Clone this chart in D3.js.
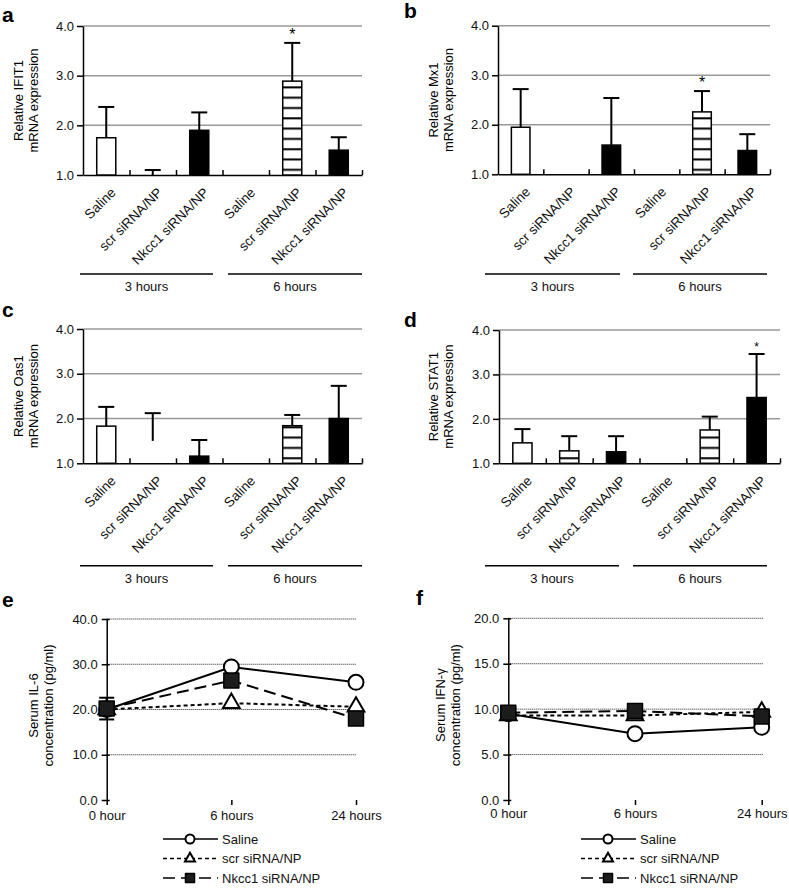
<!DOCTYPE html>
<html>
<head>
<meta charset="utf-8">
<script src="https://cdn.jsdelivr.net/npm/d3@7"></script>
<style>
    body { margin: 0; background: #fff; }
    svg { display: block; font-family: "Liberation Sans", Arial, sans-serif; }
</style>
</head>
<body>
<div id="canvas"></div>
<script>
"use strict"

/* Data: bar panels a-d (relative mRNA expression, mean and SD) */
let barLabels = ["Saline", "scr siRNA/NP", "Nkcc1 siRNA/NP", "Saline", "scr siRNA/NP", "Nkcc1 siRNA/NP"];
let groupLabels = ["3 hours", "6 hours"];
let barTicks = [1.0, 2.0, 3.0, 4.0];

let ifit1Mean = [1.75, 0.90, 1.90, 1.00, 2.89, 1.50];
let ifit1Sd = [0.62, 0.20, 0.36, 0.00, 0.77, 0.26];

let mx1Mean = [1.95, 0.85, 1.59, 1.00, 2.26, 1.48];
let mx1Sd = [0.77, 0.10, 0.95, 0.00, 0.42, 0.33];

let oas1Mean = [1.83, 1.50, 1.16, 1.00, 1.84, 2.00];
let oas1Sd = [0.43, 0.62, 0.36, 0.00, 0.24, 0.73];

let stat1Mean = [1.46, 1.28, 1.26, 1.00, 1.75, 2.48];
let stat1Sd = [0.31, 0.33, 0.35, 0.00, 0.30, 0.98];

/* Data: line panels e-f (serum cytokines, pg/ml) */
let timePoints = ["0 hour", "6 hours", "24 hours"];
let seriesNames = ["Saline", "scr siRNA/NP", "Nkcc1 siRNA/NP"];

let il6Saline = [20.0, 29.4, 26.0];
let il6Scr = [20.0, 21.4, 20.6];
let il6Nkcc1 = [20.2, 26.4, 18.0];
let il6Nkcc1Sd = [2.4, 0, 0];
let il6Ticks = [0, 10, 20, 30, 40];

let ifngSaline = [9.5, 7.3, 8.0];
let ifngScr = [9.3, 9.3, 9.7];
let ifngNkcc1 = [9.6, 9.8, 9.2];
let ifngNkcc1Sd = [0, 0, 0];
let ifngTicks = [0, 5, 10, 15, 20];

/* Drawing canvas */
let svgWidth = 789;
let svgHeight = 890;

let svg = d3.select("#canvas")
    .append("svg")
    .attr("width", svgWidth)
    .attr("height", svgHeight);

/* horizontal stripe fill for scr siRNA bars */
let pattern = svg.append("defs").append("pattern")
    .attr("id", "stripes")
    .attr("patternUnits", "userSpaceOnUse")
    .attr("width", 10)
    .attr("height", 10.3);
pattern.append("rect").attr("width", 10).attr("height", 10.3).attr("fill", "white");
pattern.append("rect").attr("y", 4).attr("width", 10).attr("height", 2).attr("fill", "black");

let barFills = ["white", "url(#stripes)", "black"];

function panelLetter(letter, x, y) {
    svg.append("text")
        .attr("x", x)
        .attr("y", y)
        .attr("font-size", 21)
        .attr("font-weight", "bold")
        .text(letter);
}

function axisTitle(lines, x, y) {
    let t = svg.append("text")
        .attr("transform", "translate(" + x + "," + y + ") rotate(-90)")
        .attr("text-anchor", "middle")
        .attr("font-size", 13);
    lines.forEach(function (line, i) {
        t.append("tspan").attr("x", 0).attr("dy", i === 0 ? 0 : 15).text(line);
    });
}

function drawBarPanel(p) {
    let g = svg.append("g");

    let x = d3.scaleBand()
        .domain(d3.range(barLabels.length))
        .range([p.left, p.right])
        .paddingInner(0.59)
        .paddingOuter(0.295);

    let y = d3.scaleLinear()
        .domain([1, 4])
        .range([p.bottom, p.top]);

    /* gray gridlines */
    g.selectAll(".grid")
        .data(barTicks.slice(1))
        .join("line")
        .attr("x1", p.left)
        .attr("x2", p.right)
        .attr("y1", d => y(d))
        .attr("y2", d => y(d))
        .attr("stroke", "#999")
        .attr("stroke-width", 1.5);

    /* y axis */
    let yAxis = g.append("g")
        .attr("transform", "translate(" + p.left + ",0)")
        .call(d3.axisLeft(y).tickValues(barTicks).tickFormat(d3.format(".1f")).tickSizeInner(6).tickSizeOuter(0).tickPadding(3));
    yAxis.select(".domain").attr("stroke", "black").attr("stroke-width", 1.5);
    yAxis.selectAll(".tick line").attr("stroke-width", 1.5);
    yAxis.selectAll("text").attr("font-size", 13).attr("font-family", "Liberation Sans, Arial, sans-serif").attr("fill", "#111");

    /* x axis with inward ticks between categories */
    let bounds = d3.scaleLinear().domain([0, barLabels.length]).range([p.left, p.right]);
    let xAxis = g.append("g")
        .attr("transform", "translate(0," + y(1) + ")")
        .call(d3.axisBottom(bounds).tickValues(d3.range(1, barLabels.length + 1)).tickSizeInner(-5).tickSizeOuter(0).tickFormat(""));
    xAxis.select(".domain").attr("stroke", "black").attr("stroke-width", 1.5);
    xAxis.selectAll(".tick line").attr("stroke-width", 1.5);

    let rows = p.mean.map(function (m, i) {
        return { i: i, m: m, sd: p.sd[i] };
    });

    /* bars (axis starts at 1.0, so lower values are hidden) */
    g.selectAll(".bar")
        .data(rows.filter(d => d.m > 1 && p.hidden.indexOf(d.i) < 0))
        .join("rect")
        .attr("x", d => x(d.i))
        .attr("width", x.bandwidth())
        .attr("y", d => y(d.m))
        .attr("height", d => y(1) - y(d.m))
        .attr("fill", d => barFills[d.i % 3])
        .attr("stroke", "black")
        .attr("stroke-width", 1.5);

    /* error bars */
    let err = rows.filter(d => d.m + d.sd > 1 && d.sd > 0);
    g.selectAll(".err")
        .data(err)
        .join("line")
        .attr("x1", d => x(d.i) + x.bandwidth() / 2)
        .attr("x2", d => x(d.i) + x.bandwidth() / 2)
        .attr("y1", d => y(Math.max(d.m, 1)))
        .attr("y2", d => y(d.m + d.sd))
        .attr("stroke", "black")
        .attr("stroke-width", 2);
    g.selectAll(".cap")
        .data(err)
        .join("line")
        .attr("x1", d => x(d.i) + x.bandwidth() / 2 - 8)
        .attr("x2", d => x(d.i) + x.bandwidth() / 2 + 8)
        .attr("y1", d => y(d.m + d.sd))
        .attr("y2", d => y(d.m + d.sd))
        .attr("stroke", "black")
        .attr("stroke-width", 2);

    /* significance stars */
    g.selectAll(".star")
        .data(rows.filter(d => p.stars.indexOf(d.i) >= 0))
        .join("text")
        .attr("x", d => x(d.i) + x.bandwidth() / 2)
        .attr("y", d => y(d.m + d.sd) - 3)
        .attr("text-anchor", "middle")
        .attr("font-size", p.starSize)
        .text("*");

    /* rotated category labels */
    g.selectAll(".cat")
        .data(barLabels)
        .join("text")
        .attr("transform", (d, i) => "translate(" + (x(i) + x.bandwidth() / 2 + 7) + "," + (y(1) + 15) + ") rotate(-45)")
        .attr("text-anchor", "end")
        .attr("dy", "0.35em")
        .attr("font-size", 13.5)
        .attr("fill", "#111")
        .text(d => d);

    /* group lines: 3 hours / 6 hours */
    p.groupLines.forEach(function (seg, k) {
        g.append("line")
            .attr("x1", seg[0])
            .attr("x2", seg[1])
            .attr("y1", p.groupY)
            .attr("y2", p.groupY)
            .attr("stroke", "black")
            .attr("stroke-width", 1.5);
        g.append("text")
            .attr("x", (seg[0] + seg[1]) / 2)
            .attr("y", p.groupY + 17)
            .attr("text-anchor", "middle")
            .attr("font-size", 13)
            .attr("fill", "#111")
            .text(groupLabels[k]);
    });

    axisTitle(p.title, p.titleX, (p.top + p.bottom) / 2);
    panelLetter(p.letter, p.letterX, p.letterY);
}

drawBarPanel({
    letter: "a", letterX: 2, letterY: 22,
    left: 83, right: 362, top: 26, bottom: 175,
    mean: ifit1Mean, sd: ifit1Sd, hidden: [], stars: [4], starSize: 16,
    groupY: 274, groupLines: [[80, 213], [228, 362]],
    title: ["Relative IFIT1", "mRNA expression"], titleX: 23
});

drawBarPanel({
    letter: "b", letterX: 404, letterY: 18,
    left: 498, right: 770, top: 25.7, bottom: 174.3,
    mean: mx1Mean, sd: mx1Sd, hidden: [], stars: [4], starSize: 16,
    groupY: 274, groupLines: [[485, 620], [633, 767]],
    title: ["Relative Mx1", "mRNA expression"], titleX: 438
});

drawBarPanel({
    letter: "c", letterX: 2, letterY: 317,
    left: 83, right: 362, top: 329, bottom: 463.3,
    mean: oas1Mean, sd: oas1Sd, hidden: [1], stars: [], starSize: 16,
    groupY: 565.7, groupLines: [[80, 213], [228, 362]],
    title: ["Relative Oas1", "mRNA expression"], titleX: 23
});

drawBarPanel({
    letter: "d", letterX: 404, letterY: 327,
    left: 499, right: 780, top: 330, bottom: 463.3,
    mean: stat1Mean, sd: stat1Sd, hidden: [], stars: [5], starSize: 12,
    groupY: 565.7, groupLines: [[485, 619], [633, 767]],
    title: ["Relative STAT1", "mRNA expression"], titleX: 438
});

/* Line panels */
let dashes = [null, "4,3", "12,6"];

function marker(sel, kind, scale) {
    if (kind === 0) {
        sel.append("circle")
            .attr("r", 7.5 * scale)
            .attr("fill", "white")
            .attr("stroke", "black")
            .attr("stroke-width", 2);
    } else if (kind === 1) {
        sel.append("path")
            .attr("d", d3.symbol(d3.symbolTriangle, 120 * scale * scale)())
            .attr("fill", "white")
            .attr("stroke", "black")
            .attr("stroke-width", 2);
    } else {
        sel.append("path")
            .attr("d", d3.symbol(d3.symbolSquare, 225 * scale * scale)())
            .attr("fill", "#1c1c1c")
            .attr("stroke", "black")
            .attr("stroke-width", 1.5)
            .attr("stroke-linejoin", "round");
    }
}

function drawLinePanel(p) {
    let g = svg.append("g");

    let x = d3.scalePoint()
        .domain(timePoints)
        .range([p.left, p.right]);

    let y = d3.scaleLinear()
        .domain([0, p.ticks[p.ticks.length - 1]])
        .range([p.bottom, p.top]);

    /* dotted gridlines */
    g.selectAll(".grid")
        .data(p.ticks.slice(1))
        .join("line")
        .attr("x1", p.left)
        .attr("x2", p.gridRight)
        .attr("y1", d => y(d))
        .attr("y2", d => y(d))
        .attr("stroke", "#222")
        .attr("stroke-width", 1)
        .attr("stroke-dasharray", "1,1");

    let yAxis = g.append("g")
        .attr("transform", "translate(" + p.left + ",0)")
        .call(d3.axisLeft(y).tickValues(p.ticks).tickFormat(d3.format(".1f")).tickSizeInner(5).tickSizeOuter(0).tickPadding(4));
    yAxis.select(".domain").attr("stroke", "black").attr("stroke-width", 1.5);
    yAxis.selectAll(".tick line").attr("x1", 3).attr("stroke-width", 1.5);
    yAxis.selectAll("text").attr("font-size", 13).attr("font-family", "Liberation Sans, Arial, sans-serif").attr("fill", "#111");

    let xAxis = g.append("g")
        .attr("transform", "translate(0," + p.bottom + ")")
        .call(d3.axisBottom(x).tickSizeInner(5).tickSizeOuter(0).tickPadding(p.xPad));
    xAxis.select(".domain").remove();
    xAxis.selectAll(".tick line").attr("stroke-width", 1.5);
    xAxis.selectAll("text").attr("font-size", 13).attr("font-family", "Liberation Sans, Arial, sans-serif").attr("fill", "#111");

    let line = d3.line()
        .x((d, i) => x(timePoints[i]))
        .y(d => y(d));

    p.series.forEach(function (values, k) {
        g.append("path")
            .attr("d", line(values))
            .attr("fill", "none")
            .attr("stroke", "black")
            .attr("stroke-width", 2)
            .attr("stroke-dasharray", dashes[k]);
    });

    /* error bars on Nkcc1 series */
    p.sd.forEach(function (s, i) {
        if (s <= 0) return;
        let cx = x(timePoints[i]);
        let v = p.series[2][i];
        g.append("line").attr("x1", cx).attr("x2", cx).attr("y1", y(v - s)).attr("y2", y(v + s))
            .attr("stroke", "black").attr("stroke-width", 2);
        [v - s, v + s].forEach(function (e) {
            g.append("line").attr("x1", cx - 7.5).attr("x2", cx + 7.5).attr("y1", y(e)).attr("y2", y(e))
                .attr("stroke", "black").attr("stroke-width", 2);
        });
    });

    p.series.forEach(function (values, k) {
        values.forEach(function (v, i) {
            let m = g.append("g").attr("transform", "translate(" + x(timePoints[i]) + "," + y(v) + ")");
            marker(m, k, 1);
        });
    });

    /* legend */
    seriesNames.forEach(function (name, k) {
        let ly = p.legendY + k * 19.5;
        g.append("line")
            .attr("x1", p.legendX)
            .attr("x2", p.legendX + 55)
            .attr("y1", ly)
            .attr("y2", ly)
            .attr("stroke", "black")
            .attr("stroke-width", 1.5)
            .attr("stroke-dasharray", dashes[k]);
        let m = g.append("g").attr("transform", "translate(" + (p.legendX + 27) + "," + ly + ")");
        marker(m, k, 0.6);
        g.append("text")
            .attr("x", p.legendX + 59)
            .attr("y", ly)
            .attr("dy", "0.35em")
            .attr("font-size", 13)
            .attr("fill", "#111")
            .text(name);
    });

    axisTitle(p.title, p.titleX, (p.top + p.bottom) / 2 - 4);
    panelLetter(p.letter, p.letterX, p.letterY);
}

drawLinePanel({
    letter: "e", letterX: 2, letterY: 607,
    left: 106.7, right: 356, gridRight: 356, top: 619, bottom: 800,
    ticks: il6Ticks, series: [il6Saline, il6Scr, il6Nkcc1], sd: il6Nkcc1Sd,
    xPad: 6, legendX: 163, legendY: 839,
    title: ["Serum IL-6", "concentration (pg/ml)"], titleX: 38
});

drawLinePanel({
    letter: "f", letterX: 416, letterY: 605,
    left: 508.3, right: 761.7, gridRight: 763, top: 618.3, bottom: 800,
    ticks: ifngTicks, series: [ifngSaline, ifngScr, ifngNkcc1], sd: ifngNkcc1Sd,
    xPad: 3.5, legendX: 581, legendY: 839,
    title: ["Serum IFN-\u03b3", "concentration (pg/ml)"], titleX: 445
});
</script>
</body>
</html>
